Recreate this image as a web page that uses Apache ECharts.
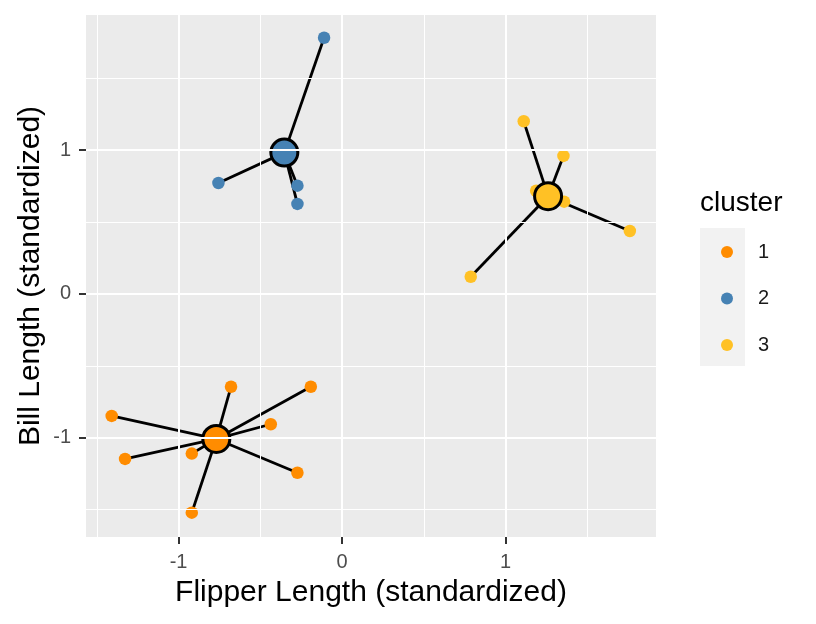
<!DOCTYPE html>
<html>
<head>
<meta charset="utf-8">
<script src="https://cdn.jsdelivr.net/npm/echarts@6/dist/echarts.min.js"></script>
<style>html,body{margin:0;padding:0;background:#fff}#c{width:816px;height:624px}</style>
</head>
<body>
<div id="c"></div>
<script>
const clusterNames = ['1', '2', '3'];
const clusterColors = ['#FF8C00', '#4682B4', '#FFC125'];
const points1 = [[-1.409,-0.848],[-0.679,-0.645],[-0.191,-0.645],[-0.436,-0.906],[-1.327,-1.147],[-0.919,-1.110],[-0.273,-1.243],[-0.919,-1.521]];
const points2 = [[-0.110,1.782],[-0.756,0.772],[-0.273,0.753],[-0.273,0.626]];
const points3 = [[1.111,1.201],[1.354,0.960],[1.187,0.718],[1.358,0.642],[1.760,0.438],[0.787,0.120]];
const centroids = [[-0.769,-1.008],[-0.353,0.983],[1.260,0.680]];
const xTicks = [-1, 0, 1];
const yTicks = [-1, 0, 1];
const xMajor = [-1, 0, 1];
const xMinor = [-1.5, -0.5, 0.5, 1.5];
const yMajor = [-1, 0, 1];
const yMinor = [-1.5, -0.5, 0.5, 1.5];
const xRange = [-1.566, 1.920];
const yRange = [-1.690, 1.940];

const allPoints = [points1, points2, points3];
const font = 'Liberation Sans, Arial, sans-serif';

const segData = [];
allPoints.forEach((pts, i) => {
  pts.forEach(p => segData.push({coords: [centroids[i], p]}));
});

const gridLines = [];
xMajor.forEach(v => gridLines.push({xAxis: v, lineStyle: {width: 2}}));
xMinor.forEach(v => gridLines.push({xAxis: v, lineStyle: {width: 1}}));
yMajor.forEach(v => gridLines.push({yAxis: v, lineStyle: {width: 2}}));
yMinor.forEach(v => gridLines.push({yAxis: v, lineStyle: {width: 1}}));

const chart = echarts.init(document.getElementById('c'), null, {renderer: 'canvas'});
const series = [
  {
    type: 'scatter', data: [], silent: true, z: 1,
    markLine: {
      silent: true, symbol: ['none', 'none'], label: {show: false},
      lineStyle: {color: '#FFFFFF', type: 'solid'}, animation: false,
      data: gridLines
    }
  },
  {
    type: 'lines', coordinateSystem: 'cartesian2d', z: 2, silent: true,
    lineStyle: {color: '#000000', width: 2.8, opacity: 1},
    data: segData
  }
];
allPoints.forEach((pts, i) => {
  series.push({
    type: 'scatter', name: clusterNames[i], data: pts, z: 3,
    symbol: 'circle', symbolSize: 12.5,
    itemStyle: {color: clusterColors[i], opacity: 1}
  });
});
series.push({
  type: 'scatter', z: 4,
  data: centroids.map((c, i) => ({value: c, itemStyle: {color: clusterColors[i]}})),
  symbol: 'circle', symbolSize: 27,
  itemStyle: {borderColor: '#000000', borderWidth: 3, opacity: 1}
});

chart.setOption({
  animation: false,
  backgroundColor: '#FFFFFF',
  grid: {left: 86, top: 15, width: 570, height: 522, show: true, backgroundColor: '#EBEBEB', borderWidth: 0, containLabel: false, outerBoundsMode: 'none'},
  xAxis: {
    type: 'value', min: xRange[0], max: xRange[1],
    name: 'Flipper Length (standardized)', nameLocation: 'middle', nameGap: 41,
    nameTextStyle: {fontFamily: font, fontSize: 30, color: '#000000'},
    axisLine: {show: false, onZero: false},
    axisTick: {show: true, length: 7, customValues: xTicks, lineStyle: {color: '#333333', width: 2}},
    axisLabel: {customValues: xTicks, fontFamily: font, fontSize: 20, color: '#4D4D4D', margin: 15},
    splitLine: {show: false}
  },
  yAxis: {
    type: 'value', min: yRange[0], max: yRange[1],
    name: 'Bill Length (standardized)', nameLocation: 'middle', nameGap: 40, nameMoveOverlap: false,
    nameTextStyle: {fontFamily: font, fontSize: 30, color: '#000000'},
    axisLine: {show: false, onZero: false},
    axisTick: {show: true, length: 7, customValues: yTicks, lineStyle: {color: '#333333', width: 2}},
    axisLabel: {customValues: yTicks, fontFamily: font, fontSize: 20, color: '#4D4D4D', margin: 15},
    splitLine: {show: false}
  },
  legend: {
    data: clusterNames, orient: 'vertical', left: 716, top: 236,
    icon: 'circle', itemWidth: 12, itemHeight: 12, itemGap: 24.5,
    textStyle: {fontFamily: font, fontSize: 20, color: '#1A1A1A', lineHeight: 22, padding: [0, 0, 0, 20]}
  },
  graphic: [
    {type: 'rect', left: 700, top: 228, shape: {width: 45, height: 138}, style: {fill: '#F2F2F2'}, z: -1},
    {type: 'text', left: 700, top: 189, style: {text: 'cluster', font: '28px ' + font, fill: '#000000'}}
  ],
  series: series
});
</script>
</body>
</html>
